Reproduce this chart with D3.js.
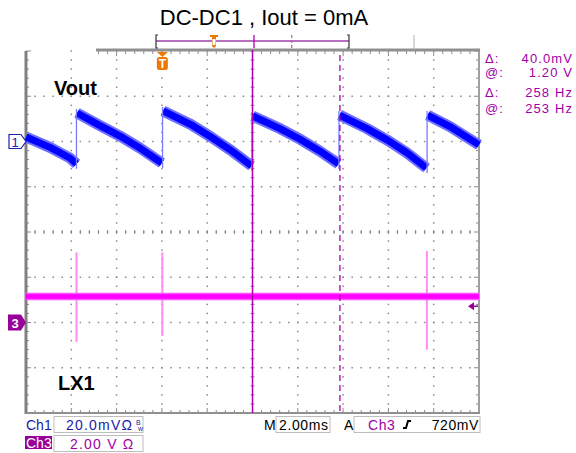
<!DOCTYPE html>
<html><head><meta charset="utf-8">
<script src="https://cdn.jsdelivr.net/npm/d3@7"></script>
<style>
html,body{margin:0;padding:0;background:#fff;}
svg{display:block;font-family:"Liberation Sans",Arial,sans-serif;}
</style></head>
<body><svg id="c" width="576" height="453"></svg>
<script>
// ---------- data (time in ms from left screen edge, Ch1 in mV re. marker, Ch3 in V re. marker)
const title = "DC-DC1 , Iout = 0mA";
const rampTimes = [
  [0, 1.06, 1.94, 2.23],
  [2.25, 3.27, 4.15, 5.03, 6.00],
  [6.05, 7.28, 8.17, 9.05, 9.96],
  [10.0, 11.21, 12.10, 12.98, 13.80],
  [13.84, 15.06, 15.94, 16.82, 17.68],
  [17.73, 18.72, 20.0]
];
const rampValues = [
  [2.0, -2.6, -7.3, -9.9],
  [12.6, 7.0, 2.4, -2.9, -9.5],
  [13.5, 7.5, 2.0, -3.9, -10.8],
  [11.3, 5.7, 1.0, -4.3, -9.9],
  [11.7, 5.7, 0.7, -5.0, -11.7],
  [11.7, 6.6, -1.5]
];
const lxTimes = [0, 20];
const lxValues = [1.15, 1.15];
const spikeTimes = [2.23, 6.02, 17.70];
const spikeHigh = [3.10, 3.10, 3.16];
const spikeLow = [-0.86, -0.60, -1.20];
const cursorSolid = 10.0, cursorDashed = 13.86, triggerTime = 6.02;
const ch1Scale = 20;   // mV/div
const ch3Scale = 2;    // V/div
const ch1Offset = 2, ch3Offset = -2;  // div
const trigLevel = 0.72; // V
const readLabels = ["\u0394:", "@:", "\u0394:", "@:"];
const readValues = ["40.0mV", "1.20 V", "258 Hz", "253 Hz"];

// ---------- geometry
const L = 26, R = 479, T = 51, B = 413;
const svg = d3.select("#c");
const x = d3.scaleLinear().domain([0, 20]).range([L, R]);
const yd = d3.scaleLinear().domain([-4, 4]).range([B, T]);
const y1 = v => yd(ch1Offset + v / ch1Scale);
const y3 = v => yd(ch3Offset + v / ch3Scale);
const divW = (R - L) / 10, divH = (B - T) / 8;

// ---------- grid
const g = svg.append("g");
const dotC = "#8a8a8a";
for (let k = 1; k < 10; k++) {
  const gx = L + k * divW;
  for (let j = 0; j <= 40; j++) {
    const gy = T + j * divH / 5;
    g.append("rect").attr("x", gx - 0.75).attr("y", gy - 0.75).attr("width", 1.5).attr("height", 1.5).attr("fill", dotC);
  }
}
for (let k = 1; k < 8; k++) {
  const gy = T + k * divH;
  for (let j = 0; j <= 50; j++) {
    const gx = L + j * divW / 5;
    g.append("rect").attr("x", gx - 0.75).attr("y", gy - 0.75).attr("width", 1.5).attr("height", 1.5).attr("fill", dotC);
  }
}
// centre line minor ticks
for (let j = 0; j <= 50; j++) {
  const gx = L + j * divW / 5, cy = T + 4 * divH;
  g.append("line").attr("x1", gx).attr("x2", gx).attr("y1", cy - 2).attr("y2", cy + 2).attr("stroke", dotC).attr("stroke-width", 1);
}
for (let j = 0; j <= 40; j++) {
  const gy = T + j * divH / 5, cx = L + 5 * divW;
  g.append("line").attr("x1", cx - 2).attr("x2", cx + 2).attr("y1", gy).attr("y2", gy).attr("stroke", dotC).attr("stroke-width", 1);
}
// border ticks
for (let j = 0; j <= 40; j++) {
  const gy = T + j * divH / 5, len = j % 5 === 0 ? 5 : 3;
  g.append("line").attr("x1", L).attr("x2", L + len).attr("y1", gy).attr("y2", gy).attr("stroke", dotC);
  g.append("line").attr("x1", R).attr("x2", R - len).attr("y1", gy).attr("y2", gy).attr("stroke", dotC);
}
for (let j = 0; j <= 50; j++) {
  const gx = L + j * divW / 5, len = j % 5 === 0 ? 5 : 3;
  g.append("line").attr("x1", gx).attr("x2", gx).attr("y1", B).attr("y2", B - len).attr("stroke", dotC);
  if (gx > 95) g.append("line").attr("x1", gx).attr("x2", gx).attr("y1", T).attr("y2", T + len).attr("stroke", dotC);
}
// borders
g.append("line").attr("x1", L).attr("x2", L).attr("y1", T).attr("y2", B + 1).attr("stroke", "#808080").attr("stroke-width", 3);
g.append("line").attr("x1", R).attr("x2", R).attr("y1", T).attr("y2", B + 1).attr("stroke", "#a0a0a0").attr("stroke-width", 2);
g.append("line").attr("x1", L).attr("x2", R + 1).attr("y1", B).attr("y2", B).attr("stroke", "#909090").attr("stroke-width", 2);
g.append("line").attr("x1", 96).attr("x2", R + 1).attr("y1", T - 1).attr("y2", T - 1).attr("stroke", "#909090").attr("stroke-width", 3);

// ---------- LX1 trace (Ch3)
const line3 = d3.line().x((d, i) => x(lxTimes[i])).y(d => y3(d));
spikeTimes.forEach((t, i) => {
  svg.append("line").attr("x1", x(t)).attr("x2", x(t)).attr("y1", y3(spikeHigh[i])).attr("y2", y3(spikeLow[i]))
    .attr("stroke", "#ff8cf4").attr("stroke-width", 2);
});
svg.append("path").attr("d", line3(lxValues)).attr("fill", "none").attr("stroke", "#ff50ff").attr("stroke-width", 7.5);
svg.append("path").attr("d", line3(lxValues)).attr("fill", "none").attr("stroke", "#ff00ff").attr("stroke-width", 4.5);

// ---------- Vout trace (Ch1)
rampTimes.forEach((ts, r) => {
  const pts = ts.map((t, i) => [x(t), y1(rampValues[r][i])]);
  const ln = d3.line();
  svg.append("path").attr("d", ln(pts)).attr("fill", "none").attr("stroke", "#7070ff").attr("stroke-width", 11).attr("stroke-linejoin", "round");
  svg.append("path").attr("d", ln(pts)).attr("fill", "none").attr("stroke", "#0000ff").attr("stroke-width", 7).attr("stroke-linejoin", "round");
  if (r > 0) {
    const prevV = rampValues[r - 1];
    svg.append("line").attr("x1", x(ts[0]) - 0.5).attr("x2", x(ts[0]) - 0.5)
      .attr("y1", y1(prevV[prevV.length - 1]) + 5).attr("y2", y1(rampValues[r][0]) - 4)
      .attr("stroke", "#7a7aff").attr("stroke-width", 1.3);
  }
});

// ---------- cursors
svg.append("line").attr("x1", x(cursorSolid)).attr("x2", x(cursorSolid)).attr("y1", T - 1).attr("y2", B)
  .attr("stroke", "#b000b0").attr("stroke-width", 1.5);
svg.append("line").attr("x1", x(cursorDashed)).attr("x2", x(cursorDashed)).attr("y1", T + 4).attr("y2", B)
  .attr("stroke", "#b000b0").attr("stroke-width", 1.3).attr("stroke-dasharray", "6,4");

// ---------- labels
svg.append("text").attr("x", 264).attr("y", 25).attr("text-anchor", "middle").attr("font-size", 22).attr("fill", "#000").text(title);
svg.append("text").attr("x", 54).attr("y", 95).attr("font-size", 20).attr("font-weight", "bold").text("Vout");
svg.append("text").attr("x", 58).attr("y", 390).attr("font-size", 20).attr("font-weight", "bold").text("LX1");

// readouts
const rdY = [63, 77, 97, 113];
readLabels.forEach((l, i) => {
  svg.append("text").attr("x", 485).attr("y", rdY[i]).attr("font-size", 13).attr("letter-spacing", 1).attr("fill", "#a000a8").text(l);
  svg.append("text").attr("x", 573).attr("y", rdY[i]).attr("text-anchor", "end").attr("font-size", 13).attr("letter-spacing", 1.1).attr("fill", "#a000a8").text(readValues[i]);
});

// channel markers
const m1y = y1(0), m3y = y3(0);
svg.append("path").attr("d", `M9,${m1y - 7}H21L26,${m1y}L21,${m1y + 7}H9Z`).attr("fill", "#fff").attr("stroke", "#2020b0").attr("stroke-width", 1.2);
svg.append("text").attr("x", 15).attr("y", m1y + 5).attr("text-anchor", "middle").attr("font-size", 13).attr("fill", "#2020b0").text("1");
svg.append("path").attr("d", `M8,${m3y - 8}H21L26,${m3y}L21,${m3y + 8}H8Z`).attr("fill", "#990099");
svg.append("text").attr("x", 15).attr("y", m3y + 5).attr("text-anchor", "middle").attr("font-size", 13).attr("font-weight", "bold").attr("fill", "#fff").text("3");
// trigger level arrow
const ty = y3(trigLevel);
svg.append("path").attr("d", `M468,${ty}L474,${ty - 4}V${ty + 4}Z`).attr("fill", "#990099");
svg.append("line").attr("x1", 473).attr("x2", 478).attr("y1", ty).attr("y2", ty).attr("stroke", "#990099").attr("stroke-width", 1.5);

// trigger T marker
const tx = x(triggerTime);
svg.append("path").attr("d", `M${tx - 5.5},52H${tx + 5.5}L${tx},57Z`).attr("fill", "#f07800");
svg.append("rect").attr("x", tx - 5.5).attr("y", 57).attr("width", 11).attr("height", 13).attr("rx", 2.5).attr("fill", "#f07800");
svg.append("text").attr("x", tx).attr("y", 68).attr("text-anchor", "middle").attr("font-size", 12).attr("font-weight", "bold").attr("fill", "#fff").text("T");

// top record bracket
svg.append("line").attr("x1", 156).attr("x2", 349).attr("y1", 41).attr("y2", 41).attr("stroke", "#a040a8").attr("stroke-width", 1.3);
svg.append("path").attr("d", "M158,35H156V48H158").attr("fill", "none").attr("stroke", "#333").attr("stroke-width", 1.2);
svg.append("path").attr("d", "M347,35H349V48H347").attr("fill", "none").attr("stroke", "#333").attr("stroke-width", 1.2);
svg.append("line").attr("x1", 254).attr("x2", 254).attr("y1", 35).attr("y2", 48).attr("stroke", "#b000b0").attr("stroke-width", 1.3);
svg.append("line").attr("x1", 291.7).attr("x2", 291.7).attr("y1", 35).attr("y2", 48).attr("stroke", "#c060c0").attr("stroke-width", 1.3).attr("stroke-dasharray", "3,2");
svg.append("line").attr("x1", 414).attr("x2", 414).attr("y1", 35).attr("y2", 50).attr("stroke", "#b0b0b0").attr("stroke-width", 1);
svg.append("path").attr("d", "M210,35H218V37H216V46L214,48L212,46V37H210Z").attr("fill", "#f07800");
svg.append("rect").attr("x", 212.5).attr("y", 39).attr("width", 3).attr("height", 6).attr("fill", "#fff");

// ---------- bottom status bar
const fs = 14;
svg.append("text").attr("x", 26).attr("y", 430).attr("font-size", fs).attr("fill", "#1a1aa8").text("Ch1");
svg.append("rect").attr("x", 54).attr("y", 416.5).attr("width", 89).attr("height", 16).attr("fill", "#fff").attr("stroke", "#bdbdbd");
svg.append("text").attr("x", 66).attr("y", 430).attr("font-size", fs).attr("letter-spacing", 1.2).attr("fill", "#1a1aa8").text("20.0mV\u03A9");
svg.append("text").attr("x", 136).attr("y", 425).attr("font-size", 7).attr("fill", "#1a1aa8").text("B");
svg.append("text").attr("x", 138).attr("y", 431).attr("font-size", 7).attr("fill", "#1a1aa8").text("w");
svg.append("rect").attr("x", 25).attr("y", 436).attr("width", 27).attr("height", 13).attr("fill", "#990099");
svg.append("text").attr("x", 26).attr("y", 447.5).attr("font-size", fs).attr("fill", "#fff").text("Ch3");
svg.append("rect").attr("x", 54).attr("y", 435.5).attr("width", 89).attr("height", 16).attr("fill", "#fff").attr("stroke", "#bdbdbd");
svg.append("text").attr("x", 70).attr("y", 449).attr("font-size", fs).attr("letter-spacing", 1.2).attr("fill", "#a000a8").text("2.00 V \u03A9");
svg.append("text").attr("x", 264).attr("y", 430).attr("font-size", fs).attr("fill", "#000").text("M");
svg.append("rect").attr("x", 276).attr("y", 416.5).attr("width", 54).attr("height", 16).attr("fill", "#fff").attr("stroke", "#bdbdbd");
svg.append("text").attr("x", 279).attr("y", 430).attr("font-size", fs).attr("letter-spacing", 0.6).attr("fill", "#000").text("2.00ms");
svg.append("text").attr("x", 344).attr("y", 430).attr("font-size", fs).attr("fill", "#000").text("A");
svg.append("rect").attr("x", 354).attr("y", 416.5).attr("width", 126).attr("height", 16).attr("fill", "#fff").attr("stroke", "#bdbdbd");
svg.append("text").attr("x", 368).attr("y", 430).attr("font-size", fs).attr("letter-spacing", 0.6).attr("fill", "#a000a8").text("Ch3");
svg.append("path").attr("d", "M403,428H406L408,421H411").attr("fill", "none").attr("stroke", "#000").attr("stroke-width", 2);
svg.append("text").attr("x", 479).attr("y", 430).attr("text-anchor", "end").attr("font-size", fs).attr("letter-spacing", 0.6).attr("fill", "#000").text("720mV");
</script></body></html>
